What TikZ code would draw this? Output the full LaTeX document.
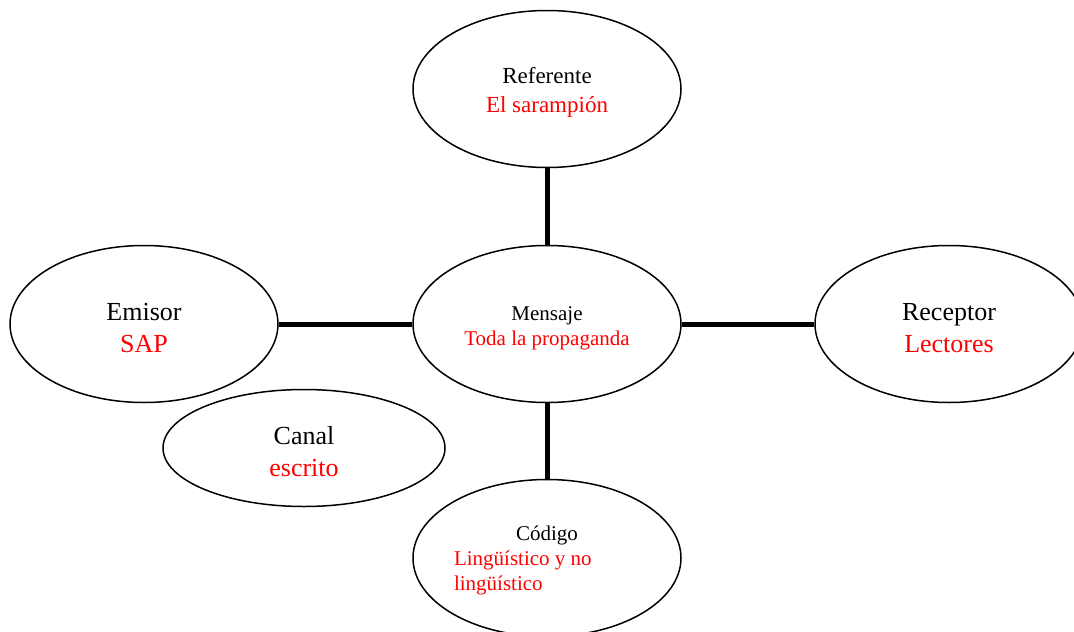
\documentclass[tikz,border=0pt]{standalone}
\usepackage{fontspec}
\setmainfont{Liberation Serif}
\usetikzlibrary{shapes.geometric}
\newcommand{\bigtxt}{\fontsize{26}{32}\selectfont}
\newcommand{\midtxt}{\fontsize{23}{29}\selectfont}
\newcommand{\smalltxt}{\fontsize{21}{25}\selectfont}
\begin{document}
\begin{tikzpicture}[x=1pt, y=-1pt,
    bubble/.style={ellipse, draw=black, line width=1.5pt, minimum width=268pt, minimum height=157pt, inner sep=0pt, align=center},
    link/.style={line width=5pt}]
    \clip (0,0) rectangle (1074,632);

    % Mensaje
    \node[bubble, font=\smalltxt] (mensaje) at (547,324)
        {\rule{0pt}{22pt}Mensaje\\\textcolor{red}{Toda la propaganda}};

    % Referente
    \node[bubble, font=\midtxt] (referente) at (547,89)
        {\rule{0pt}{23pt}Referente\\\textcolor{red}{El sarampión}};
    \draw[link] (referente) -- (mensaje);

    % Emisor
    \node[bubble, font=\bigtxt] (emisor) at (144,324)
        {\rule{0pt}{25pt}Emisor\\\textcolor{red}{SAP}};
    \draw[link] (emisor) -- (mensaje);

    % Receptor
    \node[bubble, font=\bigtxt] (receptor) at (949,324)
        {\rule{0pt}{25pt}Receptor\\\textcolor{red}{Lectores}};
    \draw[link] (mensaje) -- (receptor);

    % Codigo
    \node[bubble, font=\smalltxt, align=left] (codigo) at (547,558)
        {\rule{0pt}{20pt}\makebox[186pt]{Código}\\\textcolor{red}{Lingüístico y no}\\\textcolor{red}{lingüístico}};
    \draw[link] (mensaje) -- (codigo);

    % Canal
    \node[bubble, font=\bigtxt, minimum width=282pt, minimum height=117pt] (canal) at (304,448)
        {\rule{0pt}{25pt}Canal\\\textcolor{red}{escrito}};
\end{tikzpicture}
\end{document}
